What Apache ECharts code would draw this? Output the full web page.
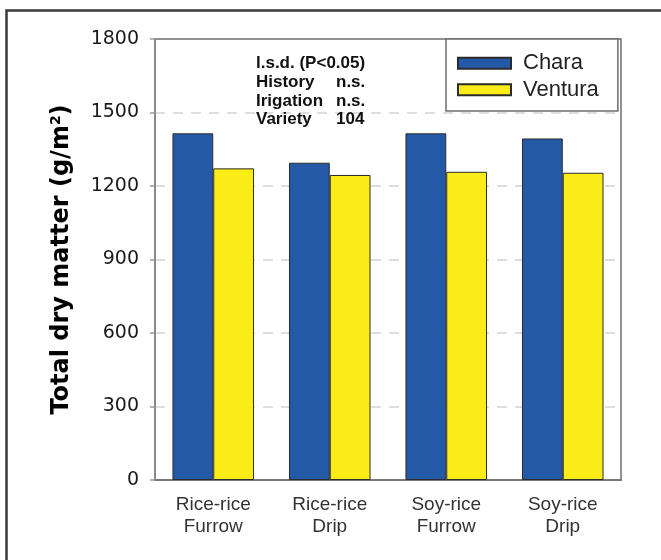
<!DOCTYPE html>
<html>
<head>
<meta charset="utf-8">
<script src="https://cdn.jsdelivr.net/npm/echarts@6/dist/echarts.min.js"></script>
<style>
  html, body { margin: 0; padding: 0; background: #fff; }
  #chart { width: 661px; height: 560px; }
</style>
</head>
<body>
<div id="chart"></div>
<script>
// Crop history x irrigation treatments
const categories = ['Rice-rice\nFurrow', 'Rice-rice\nDrip', 'Soy-rice\nFurrow', 'Soy-rice\nDrip'];
const charaValues = [1415, 1295, 1415, 1394];
const venturaValues = [1272, 1245, 1258, 1254];
const yTicks = { min: 0, max: 1800, interval: 300 };

// Least significant difference notes
const lsdLabels = ['l.s.d. (P<0.05)', 'History', 'Irigation', 'Variety'];
const lsdValues = ['', 'n.s.', 'n.s.', '104'];

const BLUE = '#2459a8';
const YELLOW = '#faec17';

const chart = echarts.init(document.getElementById('chart'));

const noteGraphics = [];
lsdLabels.forEach(function (t, i) {
  noteGraphics.push({
    type: 'text', left: 256, top: 55 + i * 18.7, z: 10,
    style: { text: t, font: 'bold 17px "Liberation Sans", Arial, sans-serif', fill: '#111' }
  });
  if (lsdValues[i]) {
    noteGraphics.push({
      type: 'text', left: 336, top: 55 + i * 18.7, z: 10,
      style: { text: lsdValues[i], font: 'bold 17px "Liberation Sans", Arial, sans-serif', fill: '#111' }
    });
  }
});

chart.setOption({
  animation: false,
  grid: {
    left: 155, right: 40, top: 39, bottom: 80,
    show: true, borderColor: '#6e6e6e', borderWidth: 1.5, backgroundColor: 'transparent'
  },
  legend: {
    orient: 'vertical',
    left: 446, top: 39,
    padding: [11, 19, 8, 11],
    itemGap: 0,
    itemWidth: 53, itemHeight: 11,
    backgroundColor: '#fff',
    borderColor: '#6e6e6e', borderWidth: 1.5,
    icon: 'rect',
    textStyle: {
      fontFamily: '"Liberation Sans", Arial, sans-serif',
      fontSize: 22, color: '#222', lineHeight: 26.5,
      padding: [0, 0, 0, 7]
    },
    data: ['Chara', 'Ventura']
  },
  xAxis: {
    type: 'category',
    data: categories,
    axisLine: { lineStyle: { color: '#7a7a7a', width: 2 } },
    axisTick: { alignWithLabel: true, length: 6, lineStyle: { color: '#444', width: 1.2 } },
    axisLabel: {
      margin: 14,
      fontFamily: '"Liberation Sans", Arial, sans-serif',
      fontSize: 19, lineHeight: 22, color: '#333'
    }
  },
  yAxis: {
    type: 'value',
    min: yTicks.min, max: yTicks.max, interval: yTicks.interval,
    name: '{t|Total dry matter (g/m}{s|2}{t|)}',
    nameLocation: 'middle',
    nameRotate: 90,
    nameGap: 80,
    nameTextStyle: {
      rich: {
        t: { fontFamily: '"DejaVu Sans", Verdana, sans-serif', fontWeight: 'bold', fontSize: 24, color: '#000' },
        s: { fontFamily: '"DejaVu Sans", Verdana, sans-serif', fontWeight: 'bold', fontSize: 14, color: '#000', verticalAlign: 'top', padding: [0, 0, 12, 0] }
      }
    },
    axisLine: { show: true, lineStyle: { color: '#8a8a8a', width: 2 } },
    axisTick: { show: true, length: 5, lineStyle: { color: '#999', width: 1.5 } },
    axisLabel: {
      margin: 16,
      formatter: function (v) { return String(v); },
      fontFamily: '"DejaVu Sans", Verdana, sans-serif',
      fontSize: 19, color: '#1a1a1a'
    },
    splitLine: {
      show: true, showMinLine: false, showMaxLine: false,
      lineStyle: { color: '#dedede', width: 2, type: [10, 8] }
    }
  },
  series: [
    {
      name: 'Chara', type: 'bar', data: charaValues,
      barGap: '0%', barCategoryGap: '30%',
      itemStyle: { color: BLUE, borderColor: '#2b2b2b', borderWidth: 1 }
    },
    {
      name: 'Ventura', type: 'bar', data: venturaValues,
      barGap: '0%', barCategoryGap: '30%',
      itemStyle: { color: YELLOW, borderColor: '#2b2b2b', borderWidth: 1 }
    }
  ],
  graphic: [
    {
      type: 'rect', left: 4, top: 8, z: -1, silent: true,
      shape: { width: 720, height: 620 },
      style: { fill: 'none', stroke: '#3a3a3a', lineWidth: 2.5 }
    }
  ].concat(noteGraphics)
});
</script>
</body>
</html>
